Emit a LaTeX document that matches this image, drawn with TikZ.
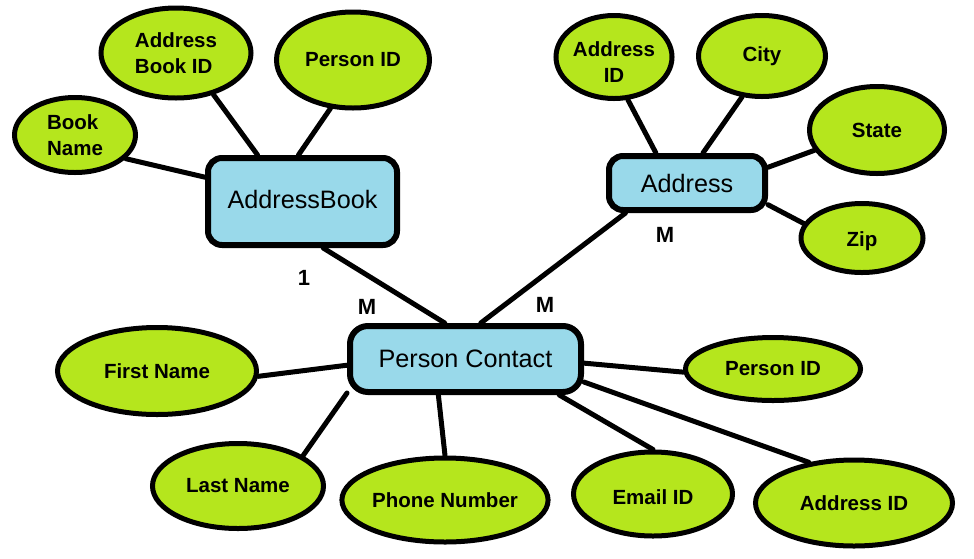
\documentclass[tikz,border=0pt]{standalone}
\usepackage{fontspec}
\setmainfont{Liberation Sans}
\usetikzlibrary{shapes.geometric}
\definecolor{lime}{HTML}{B5E61D}
\definecolor{turq}{HTML}{99D9EA}
\newcommand{\lowertext}[2]{\raisebox{-#1}[\height][\depth]{#2}}
\tikzset{
  attr/.style={ellipse, draw=black, line width=5pt, fill=lime, inner sep=0pt,
    font=\fontsize{20.5}{26}\selectfont\bfseries},
  ent/.style={rectangle, rounded corners=14pt, draw=black, line width=6pt, fill=turq,
    inner sep=0pt, font=\fontsize{25.2}{29}\selectfont},
  conn/.style={line width=5pt, line cap=round},
  card/.style={font=\fontsize{22}{26}\selectfont\bfseries, inner sep=0pt},
}
\begin{document}
\begin{tikzpicture}[x=1pt,y=-1pt]
\useasboundingbox (0,0) rectangle (974,558);
% entities
\node[ent, minimum width=189pt, minimum height=87pt] (ab) at (302.5,201.5) {\lowertext{-2pt}{AddressBook}};
\node[ent, minimum width=156pt, minimum height=54pt] (addr) at (687,183) {Address};
\node[ent, rounded corners=18pt, minimum width=231pt, minimum height=66pt] (pc) at (465.5,359) {Person Contact};
% attributes of AddressBook
\node[attr, align=left, minimum width=121pt, minimum height=75pt] (bn) at (75,135) {Book\\Name};
\node[attr, align=left, minimum width=150pt, minimum height=90pt] (abid) at (176,53) {Address\\Book ID};
\node[attr, minimum width=153pt, minimum height=96pt] (pid1) at (353,60) {Person ID};
% attributes of Address
\node[attr, minimum width=113pt, minimum height=83pt] (aid1) at (614,57) {\lowertext{7pt}{\begin{tabular}{@{}c@{}}Address\\ID\end{tabular}}};
\node[attr, minimum width=127pt, minimum height=81pt] (city) at (762,56) {City};
\node[attr, minimum width=135pt, minimum height=87pt] (state) at (877,130) {State};
\node[attr, minimum width=122pt, minimum height=69pt] (zip) at (862,238) {\lowertext{3pt}{Zip}};
% attributes of Person Contact
\node[attr, minimum width=199pt, minimum height=87pt] (fn) at (157,371) {First Name};
\node[attr, minimum width=171pt, minimum height=85pt] (ln) at (238,486) {Last Name};
\node[attr, minimum width=173pt, minimum height=84pt] (ph) at (445,500) {Phone Number};
\node[attr, minimum width=159pt, minimum height=84pt] (em) at (653,494) {\lowertext{3pt}{Email ID}};
\node[attr, minimum width=197pt, minimum height=86pt] (aid2) at (854,503) {Address ID};
\node[attr, minimum width=175pt, minimum height=63pt] (pid2) at (773,369) {Person ID};
% connectors
\draw[conn] (bn.335) -- (ab.166);
\draw[conn] (abid.312) -- (ab.134);
\draw[conn] (pid1.245) -- (ab.95.5);
\draw[conn] (ab.294) -- (pc.120);
\draw[conn] (addr.206) -- (pc.67);
\draw[conn] (aid1.288) -- (addr.136);
\draw[conn] (city.244.5) -- (addr.62);
\draw[conn] (state.198) -- (addr.11);
\draw[conn] (zip.166.5) -- (addr.345);
\draw[conn] (fn.357) -- (pc.183);
\draw[conn] (ln.25) -- (pc.196);
\draw[conn] (ph.90) -- (pc.233);
\draw[conn] (em.90) -- (pc.339);
\draw[conn] (aid2.138) -- (pc.349);
\draw[conn] (pid2.182) -- (pc.358);
% cardinalities
\node[card] (c1) at (304,278) {1};
\node[card] (c2) at (367,307) {M};
\node[card] (c3) at (545,305) {M};
\node[card] (c4) at (665,235) {M};
\end{tikzpicture}
\end{document}
